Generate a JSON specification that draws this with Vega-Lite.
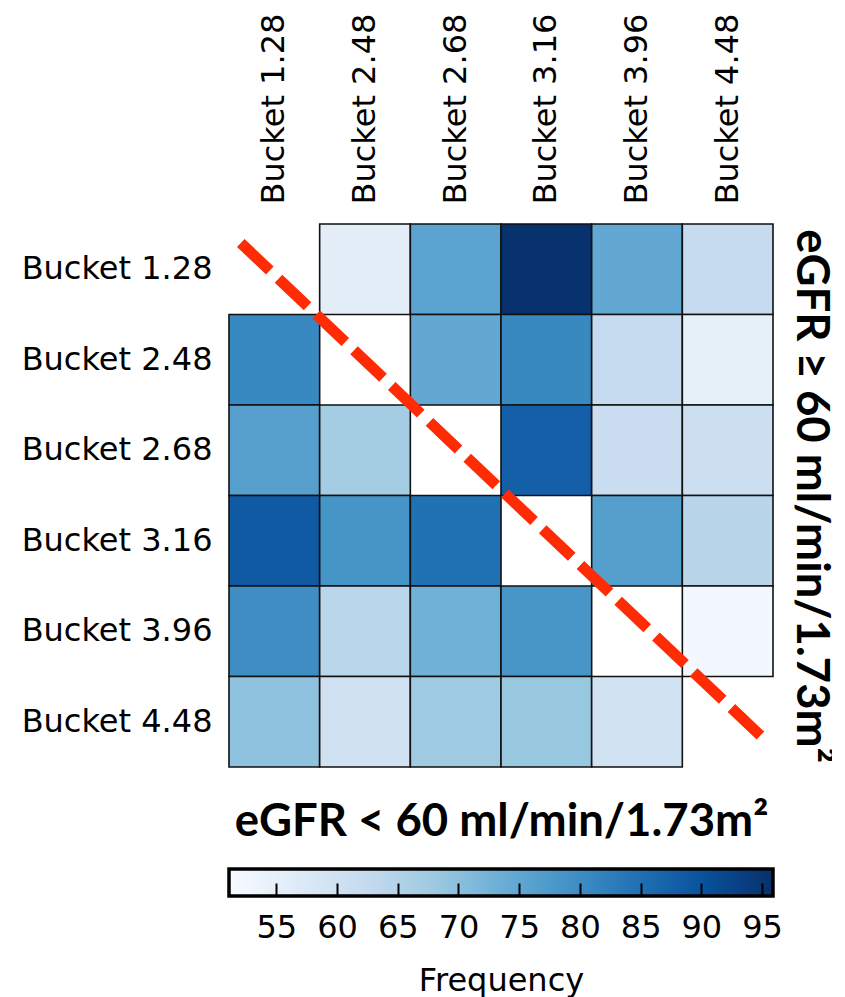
{
  "$schema": "https://vega.github.io/schema/vega-lite/v6.json",
  "background": "white",
  "padding": {"left": 21, "top": 13, "right": 0, "bottom": 2},
  "config": {
    "view": {"stroke": null},
    "font": "DejaVu Sans",
    "axis": {"labelColor": "black", "titleColor": "black", "grid": false, "labelLimit": 400}
  },
  "spacing": 22,
  "vconcat": [
    {
      "width": 544,
      "height": 543,
      "layer": [
        {
          "data": {
            "values": [
              {"row": "Bucket 1.28", "col": "Bucket 2.48", "freq": 55.6},
              {"row": "Bucket 1.28", "col": "Bucket 2.68", "freq": 75.7},
              {"row": "Bucket 1.28", "col": "Bucket 3.16", "freq": 95.6},
              {"row": "Bucket 1.28", "col": "Bucket 3.96", "freq": 74.7},
              {"row": "Bucket 1.28", "col": "Bucket 4.48", "freq": 62.3},
              {"row": "Bucket 2.48", "col": "Bucket 1.28", "freq": 80.8},
              {"row": "Bucket 2.48", "col": "Bucket 2.68", "freq": 74.7},
              {"row": "Bucket 2.48", "col": "Bucket 3.16", "freq": 80.6},
              {"row": "Bucket 2.48", "col": "Bucket 3.96", "freq": 62.3},
              {"row": "Bucket 2.48", "col": "Bucket 4.48", "freq": 55.1},
              {"row": "Bucket 2.68", "col": "Bucket 1.28", "freq": 76.2},
              {"row": "Bucket 2.68", "col": "Bucket 2.48", "freq": 67.1},
              {"row": "Bucket 2.68", "col": "Bucket 3.16", "freq": 87.6},
              {"row": "Bucket 2.68", "col": "Bucket 3.96", "freq": 61.1},
              {"row": "Bucket 2.68", "col": "Bucket 4.48", "freq": 61.0},
              {"row": "Bucket 3.16", "col": "Bucket 1.28", "freq": 88.7},
              {"row": "Bucket 3.16", "col": "Bucket 2.48", "freq": 78.6},
              {"row": "Bucket 3.16", "col": "Bucket 2.68", "freq": 84.7},
              {"row": "Bucket 3.16", "col": "Bucket 3.96", "freq": 76.5},
              {"row": "Bucket 3.16", "col": "Bucket 4.48", "freq": 64.2},
              {"row": "Bucket 3.96", "col": "Bucket 1.28", "freq": 79.8},
              {"row": "Bucket 3.96", "col": "Bucket 2.48", "freq": 64.1},
              {"row": "Bucket 3.96", "col": "Bucket 2.68", "freq": 73.0},
              {"row": "Bucket 3.96", "col": "Bucket 3.16", "freq": 78.3},
              {"row": "Bucket 3.96", "col": "Bucket 4.48", "freq": 52.0},
              {"row": "Bucket 4.48", "col": "Bucket 1.28", "freq": 69.6},
              {"row": "Bucket 4.48", "col": "Bucket 2.48", "freq": 60.0},
              {"row": "Bucket 4.48", "col": "Bucket 2.68", "freq": 67.7},
              {"row": "Bucket 4.48", "col": "Bucket 3.16", "freq": 68.6},
              {"row": "Bucket 4.48", "col": "Bucket 3.96", "freq": 59.8}
            ]
          },
          "mark": {"type": "rect", "stroke": "#111111", "strokeWidth": 1.6},
          "encoding": {
            "x": {
              "field": "col",
              "type": "nominal",
              "sort": ["Bucket 1.28", "Bucket 2.48", "Bucket 2.68", "Bucket 3.16", "Bucket 3.96", "Bucket 4.48"],
              "scale": {"domain": ["Bucket 1.28", "Bucket 2.48", "Bucket 2.68", "Bucket 3.16", "Bucket 3.96", "Bucket 4.48"], "paddingInner": 0, "paddingOuter": 0},
              "axis": {"orient": "top", "title": null, "labelAngle": 270, "labelFontSize": 32, "labelPadding": 20, "ticks": false, "domain": false}
            },
            "y": {
              "field": "row",
              "type": "nominal",
              "sort": ["Bucket 1.28", "Bucket 2.48", "Bucket 2.68", "Bucket 3.16", "Bucket 3.96", "Bucket 4.48"],
              "scale": {"domain": ["Bucket 1.28", "Bucket 2.48", "Bucket 2.68", "Bucket 3.16", "Bucket 3.96", "Bucket 4.48"], "paddingInner": 0, "paddingOuter": 0},
              "axis": {"orient": "left", "title": null, "labelFontSize": 32, "labelPadding": 17, "ticks": false, "domain": false}
            },
            "color": {
              "field": "freq",
              "type": "quantitative",
              "scale": {
                "domain": [51.1, 56.7, 62.3, 67.9, 73.5, 79.1, 84.7, 90.3, 95.9],
                "range": ["#f7fbff", "#deebf7", "#c6dbef", "#9ecae1", "#6baed6", "#4292c6", "#2171b5", "#08519c", "#08306b"],
                "interpolate": "rgb"
              },
              "legend": null
            }
          }
        },
        {
          "data": {"values": [{"lx": 0.13, "ly": 0.21}, {"lx": 5.89, "ly": 5.68}]},
          "mark": {"type": "line", "color": "#ff2b05", "strokeWidth": 11, "strokeDash": [40, 12], "strokeCap": "butt"},
          "encoding": {
            "x": {
              "field": "lx",
              "type": "quantitative",
              "scale": {"domain": [0, 6], "nice": false, "zero": false},
              "axis": {"orient": "bottom", "title": "eGFR < 60 ml/min/1.73m²", "titleFont": "Lato", "titleFontSize": 45.5, "titleFontWeight": "bold", "titlePadding": 32, "labels": false, "ticks": false, "domain": false}
            },
            "y": {
              "field": "ly",
              "type": "quantitative",
              "scale": {"domain": [0, 6], "nice": false, "zero": false, "reverse": true},
              "axis": {"orient": "right", "title": "eGFR ≥ 60 ml/min/1.73m²", "titleAngle": 90, "titleFont": "Lato", "titleFontSize": 45.5, "titleFontWeight": "bold", "titlePadding": 13, "labels": false, "ticks": false, "domain": false}
            }
          }
        }
      ],
      "resolve": {"scale": {"x": "independent", "y": "independent", "color": "independent"}}
    },
    {
      "width": 544,
      "height": 27,
      "data": {"values": [{"lo": 51.1, "hi": 95.9}]},
      "mark": {
        "type": "rect",
        "stroke": "black",
        "strokeWidth": 3.5,
        "fill": {
          "gradient": "linear",
          "x1": 0, "y1": 0, "x2": 1, "y2": 0,
          "stops": [
            {"offset": 0, "color": "#f7fbff"},
            {"offset": 0.125, "color": "#deebf7"},
            {"offset": 0.25, "color": "#c6dbef"},
            {"offset": 0.375, "color": "#9ecae1"},
            {"offset": 0.5, "color": "#6baed6"},
            {"offset": 0.625, "color": "#4292c6"},
            {"offset": 0.75, "color": "#2171b5"},
            {"offset": 0.875, "color": "#08519c"},
            {"offset": 1, "color": "#08306b"}
          ]
        }
      },
      "encoding": {
        "x": {
          "field": "lo",
          "type": "quantitative",
          "scale": {"domain": [51.1, 95.9], "nice": false, "zero": false},
          "axis": {
            "orient": "bottom",
            "zindex": 1,
            "values": [55, 60, 65, 70, 75, 80, 85, 90, 95],
            "title": "Frequency",
            "titleFontSize": 32,
            "titleFontWeight": "normal",
            "titlePadding": 22,
            "labelFontSize": 32,
            "labelPadding": 29,
            "tickSize": -13,
            "tickWidth": 2,
            "tickColor": "black",
            "domain": false
          }
        },
        "x2": {"field": "hi"}
      }
    }
  ]
}
